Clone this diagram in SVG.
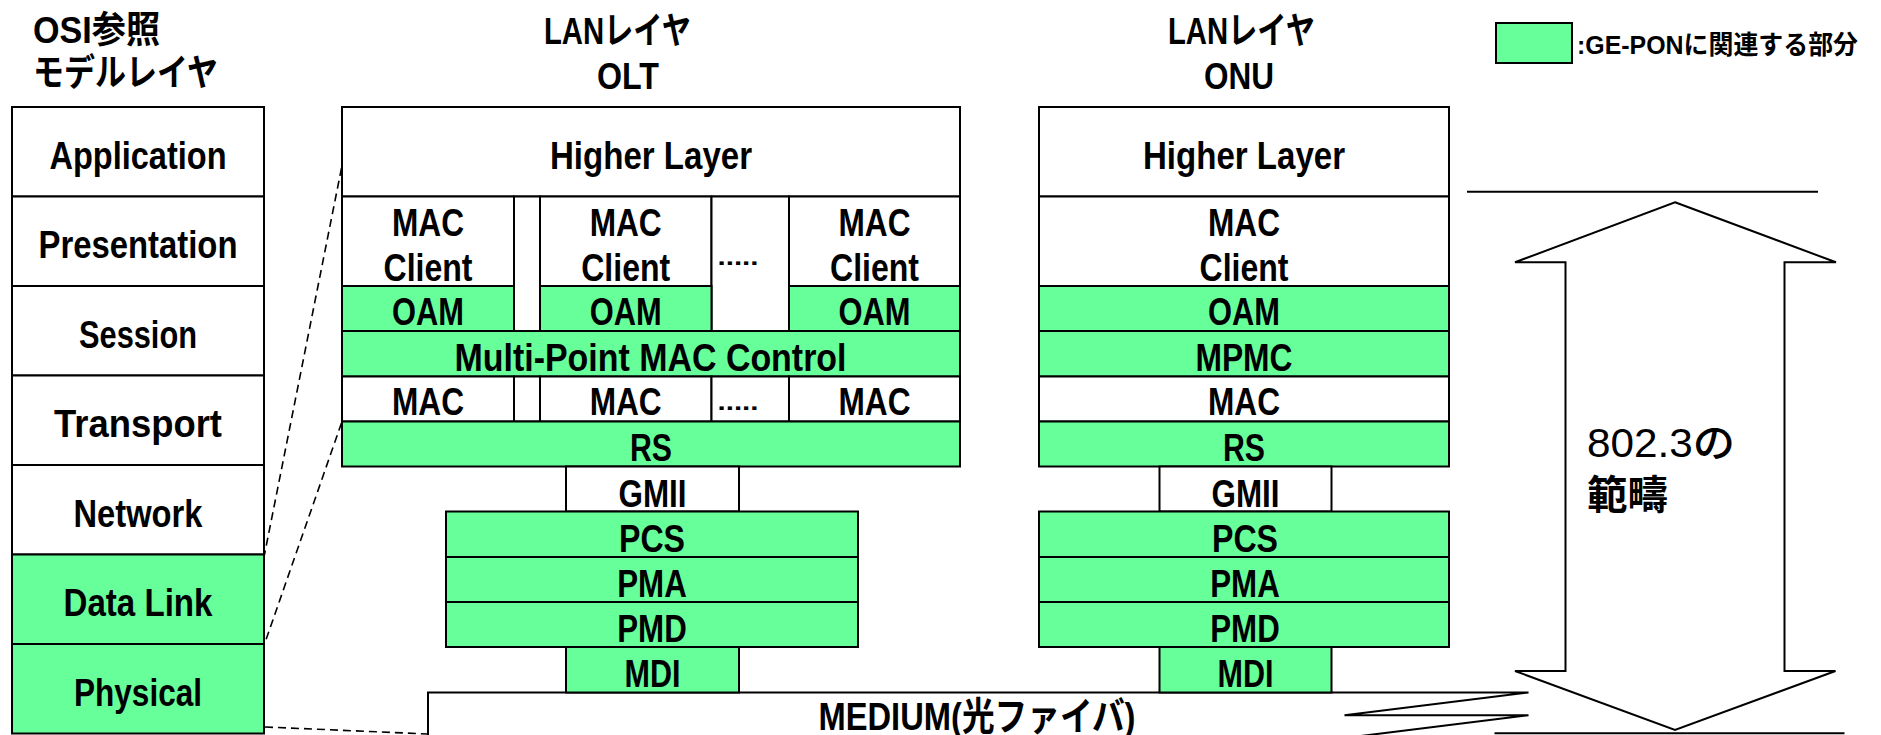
<svg xmlns="http://www.w3.org/2000/svg" width="1881" height="735" viewBox="0 0 1881 735">
<style>
.b{stroke:#000;stroke-width:2}
.g{fill:#66FF99}
.w{fill:#fff}
text{font-family:"Liberation Sans","Noto Sans CJK JP",sans-serif;font-weight:bold;fill:#000}
.l{font-size:39px;text-anchor:middle}
.h{font-size:37px}
.hd{font-size:37px}
.dots{font-size:24px;text-anchor:middle}
.d{stroke:#000;stroke-width:1.6;stroke-dasharray:8 5;fill:none}
.ln{stroke:#000;stroke-width:2;fill:none}
</style>
<rect width="1881" height="735" fill="#fff"/>

<g id="titles">
<text class="h" x="33" y="43" textLength="127" lengthAdjust="spacingAndGlyphs">OSI参照</text>
<text class="h" x="33" y="86" textLength="185" lengthAdjust="spacingAndGlyphs">モデルレイヤ</text>
<text class="hd" x="544" y="44" textLength="147" lengthAdjust="spacingAndGlyphs">LANレイヤ</text>
<text class="hd" x="597" y="89" textLength="62" lengthAdjust="spacingAndGlyphs">OLT</text>
<text class="hd" x="1168" y="44" textLength="147" lengthAdjust="spacingAndGlyphs">LANレイヤ</text>
<text class="hd" x="1204" y="89" textLength="70" lengthAdjust="spacingAndGlyphs">ONU</text>
</g>

<g id="legend">
<rect class="b g" x="1496" y="23" width="76" height="40"/>
<text x="1577" y="54" font-size="26" textLength="281" lengthAdjust="spacingAndGlyphs">:GE-PONに関連する部分</text>
</g>

<g id="connectors">
<line class="d" x1="341.5" y1="168" x2="264.5" y2="554.5"/>
<line class="d" x1="341.5" y1="423" x2="264.5" y2="644"/>
<line class="d" x1="265" y1="727" x2="428" y2="734"/>
</g>

<g id="osi">
<g id="osi-application"><rect class="b w" x="12" y="107" width="252" height="89.5"/><text class="l" x="138" y="168.5" textLength="177" lengthAdjust="spacingAndGlyphs">Application</text></g>
<g id="osi-presentation"><rect class="b w" x="12" y="196.5" width="252" height="89.5"/><text class="l" x="138" y="258" textLength="199" lengthAdjust="spacingAndGlyphs">Presentation</text></g>
<g id="osi-session"><rect class="b w" x="12" y="286" width="252" height="89.5"/><text class="l" x="138" y="347.5" textLength="118" lengthAdjust="spacingAndGlyphs">Session</text></g>
<g id="osi-transport"><rect class="b w" x="12" y="375.5" width="252" height="89.5"/><text class="l" x="138" y="437" textLength="168" lengthAdjust="spacingAndGlyphs">Transport</text></g>
<g id="osi-network"><rect class="b w" x="12" y="465" width="252" height="89.5"/><text class="l" x="138" y="526.5" textLength="129" lengthAdjust="spacingAndGlyphs">Network</text></g>
<g id="osi-datalink"><rect class="b g" x="12" y="554.5" width="252" height="89.5"/><text class="l" x="138" y="616" textLength="149" lengthAdjust="spacingAndGlyphs">Data Link</text></g>
<g id="osi-physical"><rect class="b g" x="12" y="644" width="252" height="89.5"/><text class="l" x="138" y="705.5" textLength="128" lengthAdjust="spacingAndGlyphs">Physical</text></g>
</g>

<g id="medium">
<path class="ln" fill="#fff" d="M428,742 L428,692.5 L1528.5,692.5 L1344.5,715.3 L1528.5,715.3 L1344.5,738"/>
<text class="l" x="977" y="730" textLength="317" lengthAdjust="spacingAndGlyphs">MEDIUM(光ファイバ)</text>
</g>

<g id="olt">
<g id="olt-higher"><rect class="b w" x="342" y="107" width="618" height="89.5"/><text class="l" x="651" y="168.5" textLength="202" lengthAdjust="spacingAndGlyphs">Higher Layer</text></g>
<g id="olt-client1"><rect class="b w" x="342" y="196.5" width="172" height="89.5"/><text class="l" x="428" y="236" textLength="72" lengthAdjust="spacingAndGlyphs">MAC</text><text class="l" x="428" y="280.5" textLength="89" lengthAdjust="spacingAndGlyphs">Client</text></g>
<g id="olt-gap1"><rect class="b w" x="514" y="196.5" width="26" height="134.5"/></g>
<g id="olt-client2"><rect class="b w" x="540" y="196.5" width="171.5" height="89.5"/><text class="l" x="625.7" y="236" textLength="72" lengthAdjust="spacingAndGlyphs">MAC</text><text class="l" x="625.7" y="280.5" textLength="89" lengthAdjust="spacingAndGlyphs">Client</text></g>
<g id="olt-dots1"><rect class="b w" x="711.5" y="196.5" width="77.5" height="134.5"/><text class="dots" x="738" y="265" textLength="41" lengthAdjust="spacingAndGlyphs">.....</text></g>
<g id="olt-client3"><rect class="b w" x="789" y="196.5" width="171" height="89.5"/><text class="l" x="874.5" y="236" textLength="72" lengthAdjust="spacingAndGlyphs">MAC</text><text class="l" x="874.5" y="280.5" textLength="89" lengthAdjust="spacingAndGlyphs">Client</text></g>
<g id="olt-oam1"><rect class="b g" x="342" y="286" width="172" height="45"/><text class="l" x="428" y="325" textLength="72" lengthAdjust="spacingAndGlyphs">OAM</text></g>
<g id="olt-oam2"><rect class="b g" x="540" y="286" width="171.5" height="45"/><text class="l" x="625.7" y="325" textLength="72" lengthAdjust="spacingAndGlyphs">OAM</text></g>
<g id="olt-oam3"><rect class="b g" x="789" y="286" width="171" height="45"/><text class="l" x="874.5" y="325" textLength="72" lengthAdjust="spacingAndGlyphs">OAM</text></g>
<g id="olt-mpmc"><rect class="b g" x="342" y="331" width="618" height="45.5"/><text class="l" x="650.5" y="370.5" textLength="392" lengthAdjust="spacingAndGlyphs">Multi-Point MAC Control</text></g>
<g id="olt-mac1"><rect class="b w" x="342" y="376.5" width="172" height="45"/><text class="l" x="428" y="415" textLength="72" lengthAdjust="spacingAndGlyphs">MAC</text></g>
<g id="olt-gap2"><rect class="b w" x="514" y="376.5" width="26" height="45"/></g>
<g id="olt-mac2"><rect class="b w" x="540" y="376.5" width="171.5" height="45"/><text class="l" x="625.7" y="415" textLength="72" lengthAdjust="spacingAndGlyphs">MAC</text></g>
<g id="olt-dots2"><rect class="b w" x="711.5" y="376.5" width="77.5" height="45"/><text class="dots" x="738" y="410" textLength="41" lengthAdjust="spacingAndGlyphs">.....</text></g>
<g id="olt-mac3"><rect class="b w" x="789" y="376.5" width="171" height="45"/><text class="l" x="874.5" y="415" textLength="72" lengthAdjust="spacingAndGlyphs">MAC</text></g>
<g id="olt-rs"><rect class="b g" x="342" y="421.5" width="618" height="45"/><text class="l" x="651" y="461" textLength="42" lengthAdjust="spacingAndGlyphs">RS</text></g>
<g id="olt-gmii"><rect class="b w" x="566" y="466.5" width="173" height="45"/><text class="l" x="652.5" y="506.5" textLength="68" lengthAdjust="spacingAndGlyphs">GMII</text></g>
<g id="olt-pcs"><rect class="b g" x="446" y="511.5" width="412" height="45.5"/><text class="l" x="652" y="551.7" textLength="66" lengthAdjust="spacingAndGlyphs">PCS</text></g>
<g id="olt-pma"><rect class="b g" x="446" y="557" width="412" height="45"/><text class="l" x="652" y="596.7" textLength="69.5" lengthAdjust="spacingAndGlyphs">PMA</text></g>
<g id="olt-pmd"><rect class="b g" x="446" y="602" width="412" height="45"/><text class="l" x="652" y="641.7" textLength="69.5" lengthAdjust="spacingAndGlyphs">PMD</text></g>
<g id="olt-mdi"><rect class="b g" x="566" y="647" width="173" height="45.5"/><text class="l" x="652.5" y="687" textLength="56" lengthAdjust="spacingAndGlyphs">MDI</text></g>
</g>

<g id="onu">
<g id="onu-higher"><rect class="b w" x="1039" y="107" width="410" height="89.5"/><text class="l" x="1244" y="168.5" textLength="202" lengthAdjust="spacingAndGlyphs">Higher Layer</text></g>
<g id="onu-client"><rect class="b w" x="1039" y="196.5" width="410" height="89.5"/><text class="l" x="1244" y="236" textLength="72" lengthAdjust="spacingAndGlyphs">MAC</text><text class="l" x="1244" y="280.5" textLength="89" lengthAdjust="spacingAndGlyphs">Client</text></g>
<g id="onu-oam"><rect class="b g" x="1039" y="286" width="410" height="45"/><text class="l" x="1244" y="325" textLength="72" lengthAdjust="spacingAndGlyphs">OAM</text></g>
<g id="onu-mpmc"><rect class="b g" x="1039" y="331" width="410" height="45.5"/><text class="l" x="1244" y="370.5" textLength="97" lengthAdjust="spacingAndGlyphs">MPMC</text></g>
<g id="onu-mac"><rect class="b w" x="1039" y="376.5" width="410" height="45"/><text class="l" x="1244" y="415" textLength="72" lengthAdjust="spacingAndGlyphs">MAC</text></g>
<g id="onu-rs"><rect class="b g" x="1039" y="421.5" width="410" height="45"/><text class="l" x="1244" y="461" textLength="42" lengthAdjust="spacingAndGlyphs">RS</text></g>
<g id="onu-gmii"><rect class="b w" x="1159.5" y="466.5" width="172" height="45"/><text class="l" x="1245.5" y="506.5" textLength="68" lengthAdjust="spacingAndGlyphs">GMII</text></g>
<g id="onu-pcs"><rect class="b g" x="1039" y="511.5" width="410" height="45.5"/><text class="l" x="1245" y="551.7" textLength="66" lengthAdjust="spacingAndGlyphs">PCS</text></g>
<g id="onu-pma"><rect class="b g" x="1039" y="557" width="410" height="45"/><text class="l" x="1245" y="596.7" textLength="69.5" lengthAdjust="spacingAndGlyphs">PMA</text></g>
<g id="onu-pmd"><rect class="b g" x="1039" y="602" width="410" height="45"/><text class="l" x="1245" y="641.7" textLength="69.5" lengthAdjust="spacingAndGlyphs">PMD</text></g>
<g id="onu-mdi"><rect class="b g" x="1159.5" y="647" width="172" height="45.5"/><text class="l" x="1245.5" y="687" textLength="56" lengthAdjust="spacingAndGlyphs">MDI</text></g>
</g>

<g id="scope">
<line class="ln" x1="1467" y1="191.7" x2="1818" y2="191.7"/>
<line class="ln" x1="1494.5" y1="733.3" x2="1844.5" y2="733.3"/>
<polygon class="ln" fill="#fff" points="1675,202.3 1836,262.3 1784.5,262.3 1784.5,671 1835.5,671 1675,730 1515,671 1565.5,671 1565.5,262.3 1515,262.3"/>
<text x="1587" y="456.7" font-size="40" style="font-weight:500" textLength="148" lengthAdjust="spacingAndGlyphs">802.3の</text>
<text x="1587" y="509" font-size="40" textLength="81" lengthAdjust="spacingAndGlyphs">範疇</text>
</g>
</svg>
